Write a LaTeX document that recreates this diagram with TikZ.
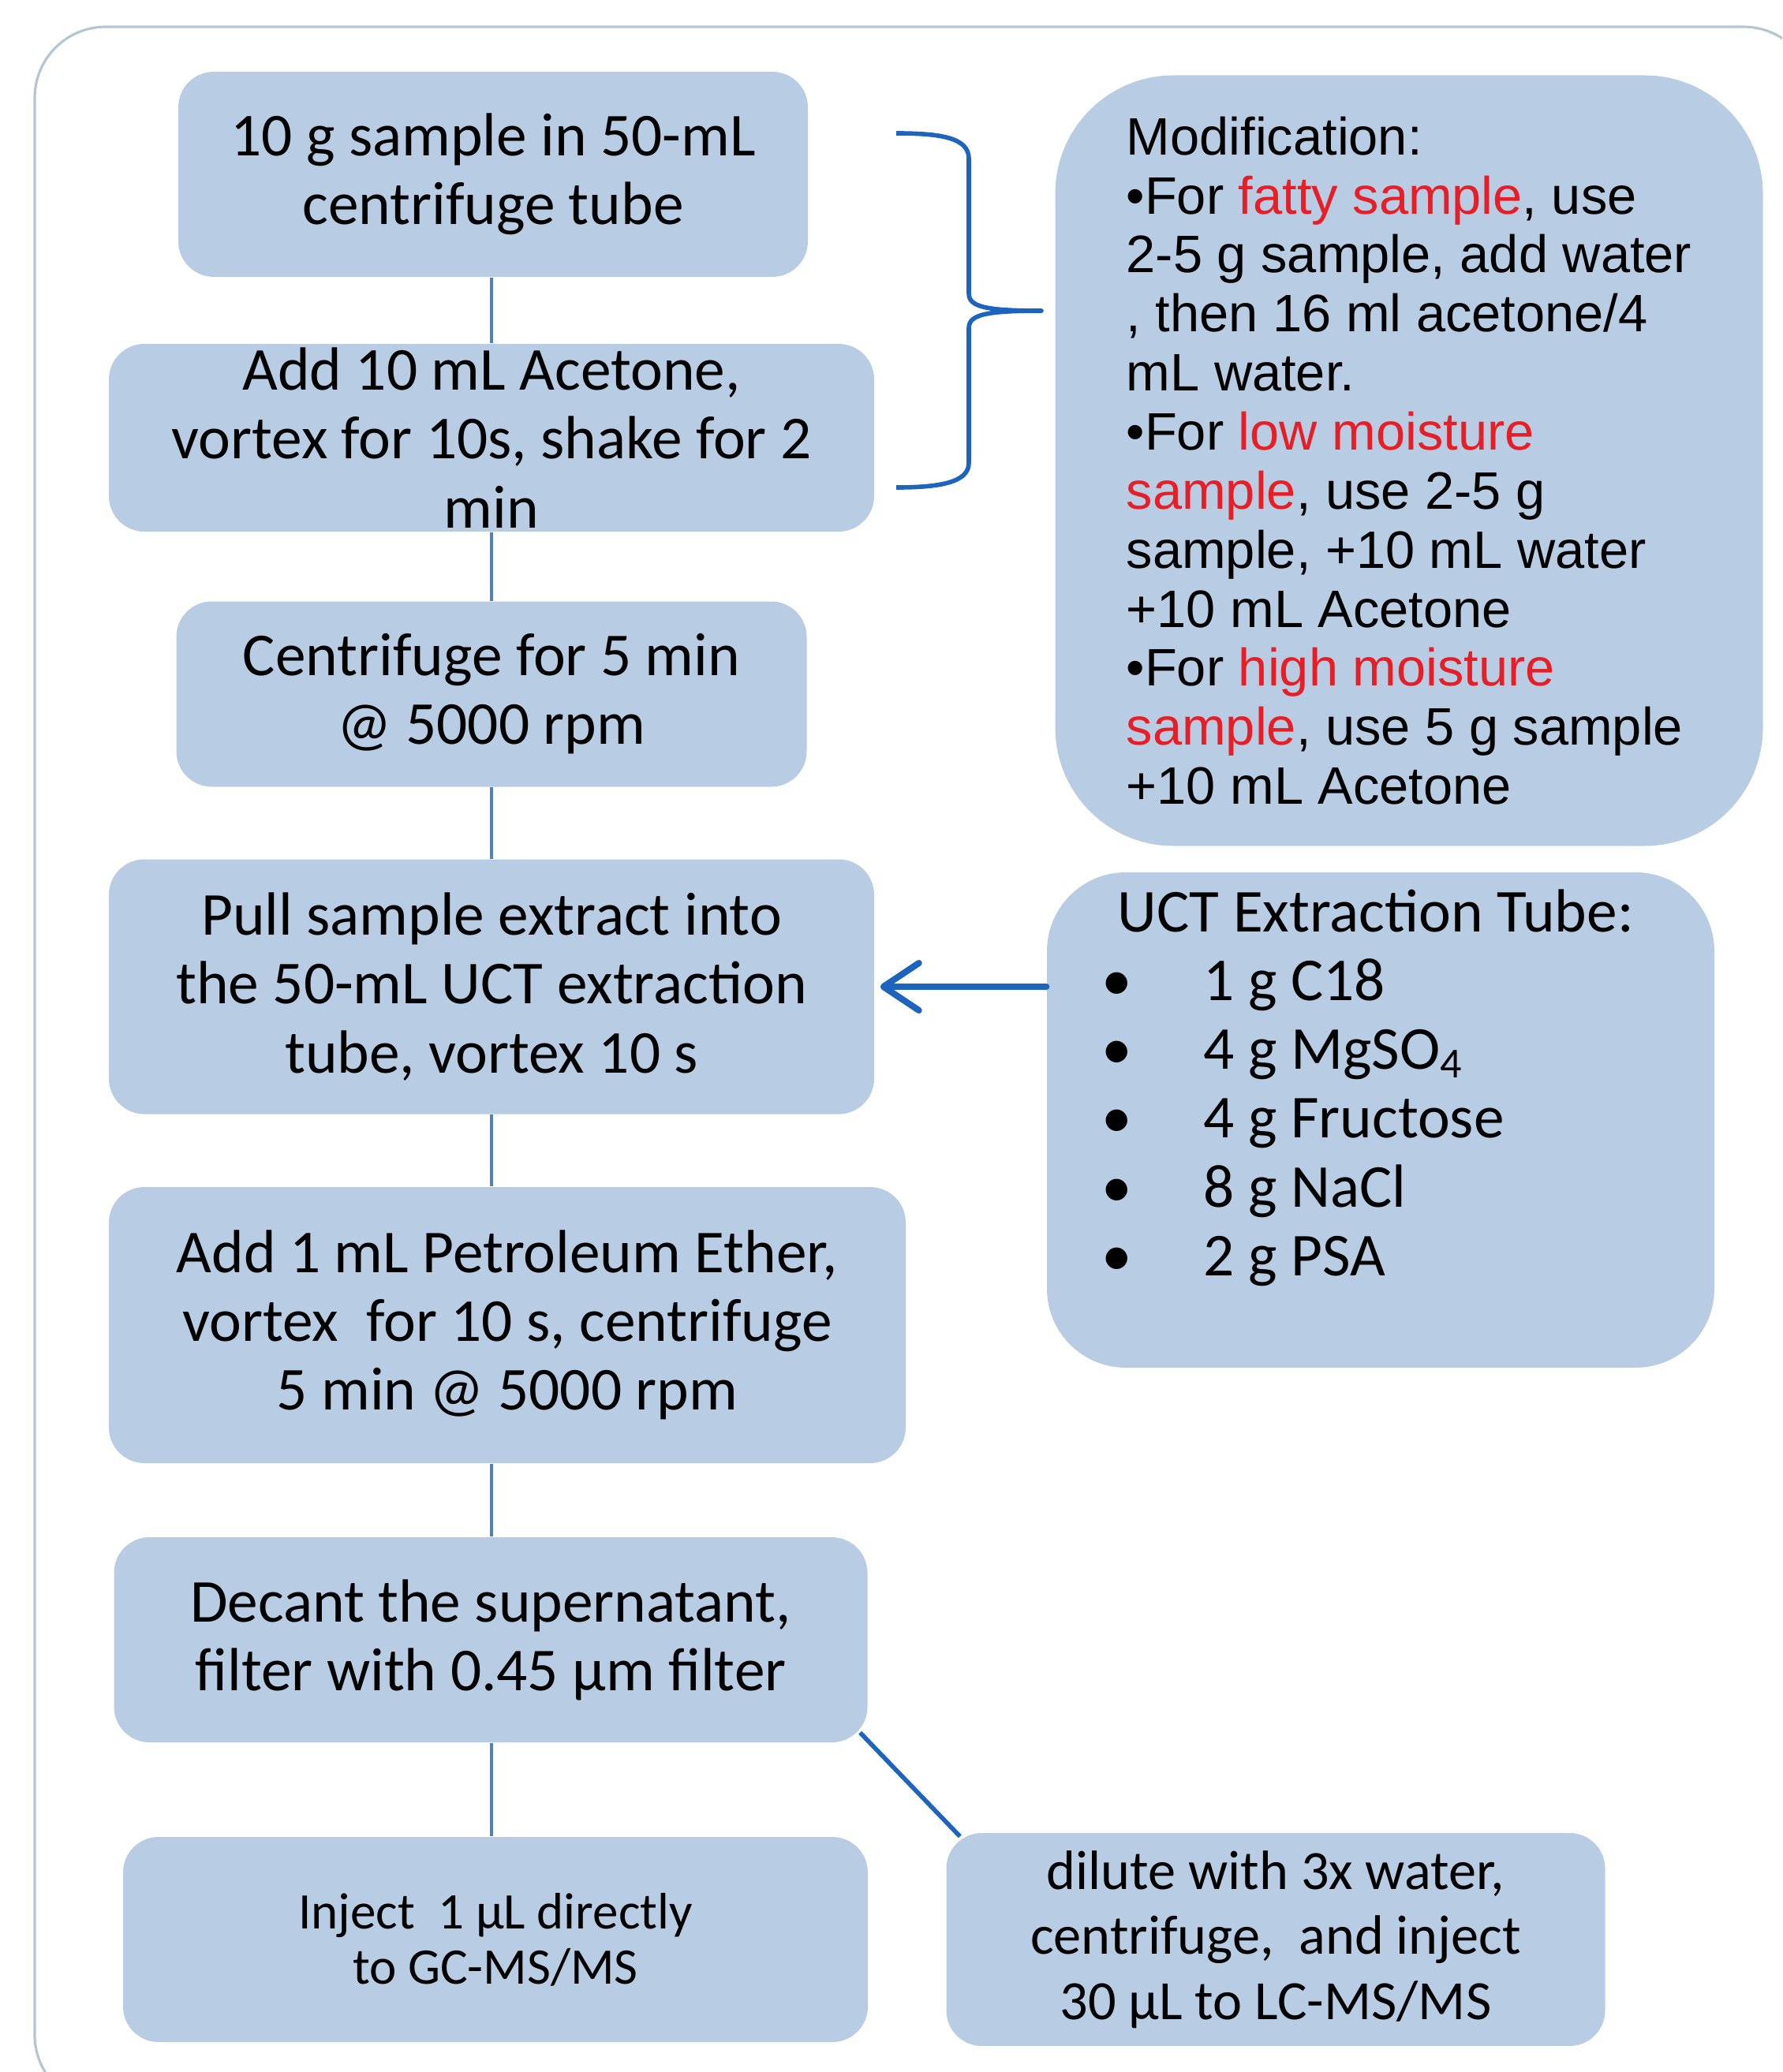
\documentclass[tikz,border=0pt]{standalone}
\usepackage{fontspec}
\setmainfont{Carlito}
\newfontfamily\arialfont{Liberation Sans}
\usetikzlibrary{arrows.meta}

\definecolor{boxblue}{RGB}{184,204,228}
\definecolor{linkblue}{RGB}{79,129,189}
\definecolor{darkblue}{RGB}{28,100,190}
\definecolor{modred}{RGB}{232,30,38}
\definecolor{framegray}{RGB}{180,198,210}

\tikzset{
  stepbox/.style={fill=boxblue, rounded corners=0.45cm, align=center,
    inner sep=0pt, font=\fontsize{22}{24.8}\selectfont},
  sidebox/.style={fill=boxblue, inner sep=0pt},
  link/.style={draw=linkblue, line width=1pt},
  darklink/.style={draw=darkblue, line width=1.6pt},
}

\begin{document}
\begin{tikzpicture}
    \useasboundingbox (0,0) rectangle (22.59,-26.27);
    \clip (0,0) rectangle (22.59,-26.27);
    \draw[framegray, line width=0.9pt, rounded corners=0.9cm] (0.44,-0.34) rectangle (23.0,-26.7);

    % main steps
    \node[stepbox, minimum width=7.98cm, minimum height=2.6cm] (b1) at (6.25,-2.21)
      {10 g sample in 50-mL\\centrifuge tube};
    \node[stepbox, minimum width=9.7cm, minimum height=2.38cm] (b2) at (6.23,-5.55)
      {Add 10 mL Acetone,\\vortex for 10s, shake for 2\\min};
    \node[stepbox, minimum width=7.99cm, minimum height=2.35cm] (b3) at (6.23,-8.8)
      {Centrifuge for 5 min\\@ 5000 rpm};
    \node[stepbox, minimum width=9.7cm, minimum height=3.23cm] (b4) at (6.23,-12.51)
      {Pull sample extract into\\the 50-mL UCT extraction\\tube, vortex 10 s};
    \node[stepbox, minimum width=10.1cm, minimum height=3.5cm] (b5) at (6.43,-16.8)
      {Add 1 mL Petroleum Ether,\\vortex\ \ for 10 s, centrifuge\\5 min @ 5000 rpm};
    \node[stepbox, minimum width=9.55cm, minimum height=2.6cm] (b6) at (6.22,-20.79)
      {Decant the supernatant,\\filter with 0.45 µm filter};
    \node[stepbox, minimum width=9.44cm, minimum height=2.6cm,
      font=\fontsize{18.5}{20}\selectfont] (b7) at (6.28,-24.59)
      {Inject\ \ 1 µL directly\\to GC-MS/MS};
    \node[stepbox, minimum width=8.35cm, minimum height=2.7cm,
      font=\fontsize{20}{23.4}\selectfont] (b8) at (16.17,-24.59)
      {dilute with 3x water,\\centrifuge,\ \ and inject\\30 µL to LC-MS/MS};

    % side boxes
    \node[sidebox, rounded corners=1.5cm, minimum width=8.97cm, minimum height=9.77cm,
      align=left, font=\arialfont\fontsize{19}{21.3}\selectfont] (mod) at (17.86,-5.84)
      {Modification:\\
       •For {\color{modred}fatty sample}, use\\
       2-5 g sample, add water\\
       , then 16 ml acetone/4\\
       mL water.\\
       •For {\color{modred}low moisture}\\
       {\color{modred}sample}, use 2-5 g\\
       sample, +10 mL water\\
       +10 mL Acetone\\
       •For {\color{modred}high moisture}\\
       {\color{modred}sample}, use 5 g sample\\
       +10 mL Acetone};
    \node[sidebox, rounded corners=1cm, minimum width=8.46cm, minimum height=6.28cm] (uct) at (17.5,-14.2) {};
    \node[anchor=north west, align=left, inner sep=0pt, font=\fontsize{22}{24.8}\selectfont] (uctlist) at (14.16,-11.27)
      {UCT Extraction Tube:\\
       \makebox[1.09cm][l]{\hspace{-0.2cm}•}1 g C18\\
       \makebox[1.09cm][l]{\hspace{-0.2cm}•}4 g MgSO\textsubscript{4}\\
       \makebox[1.09cm][l]{\hspace{-0.2cm}•}4 g Fructose\\
       \makebox[1.09cm][l]{\hspace{-0.2cm}•}8 g NaCl\\
       \makebox[1.09cm][l]{\hspace{-0.2cm}•}2 g PSA};

    % connectors
    \foreach \a/\b in {b1/b2, b2/b3, b3/b4, b4/b5, b5/b6, b6/b7}{
      \draw[link] (b2.center |- \a.south) -- (b2.center |- \b.north);
    }
    \draw[darklink] ([shift={(-0.1,0.13)}]b6.south east) -- ([shift={(0.18,-0.05)}]b8.north west);
    \draw[darkblue, line width=2.3pt, line cap=round, -{Straight Barb[length=0.45cm,width=0.6cm,round]}]
      (uct.west |- b4.east) -- ([xshift=0.07cm]b4.east);
    \draw[darkblue, line width=1.6pt, line join=round]
      (11.36,-1.69) .. controls (11.9,-1.69) and (12.28,-1.74) .. (12.28,-2.01) -- (12.28,-3.72)
      .. controls (12.28,-3.89) and (12.49,-3.94) .. (13.2,-3.94)
      .. controls (12.49,-3.94) and (12.28,-3.99) .. (12.28,-4.16) -- (12.28,-5.87)
      .. controls (12.28,-6.12) and (11.9,-6.18) .. (11.36,-6.18);
\end{tikzpicture}
\end{document}
